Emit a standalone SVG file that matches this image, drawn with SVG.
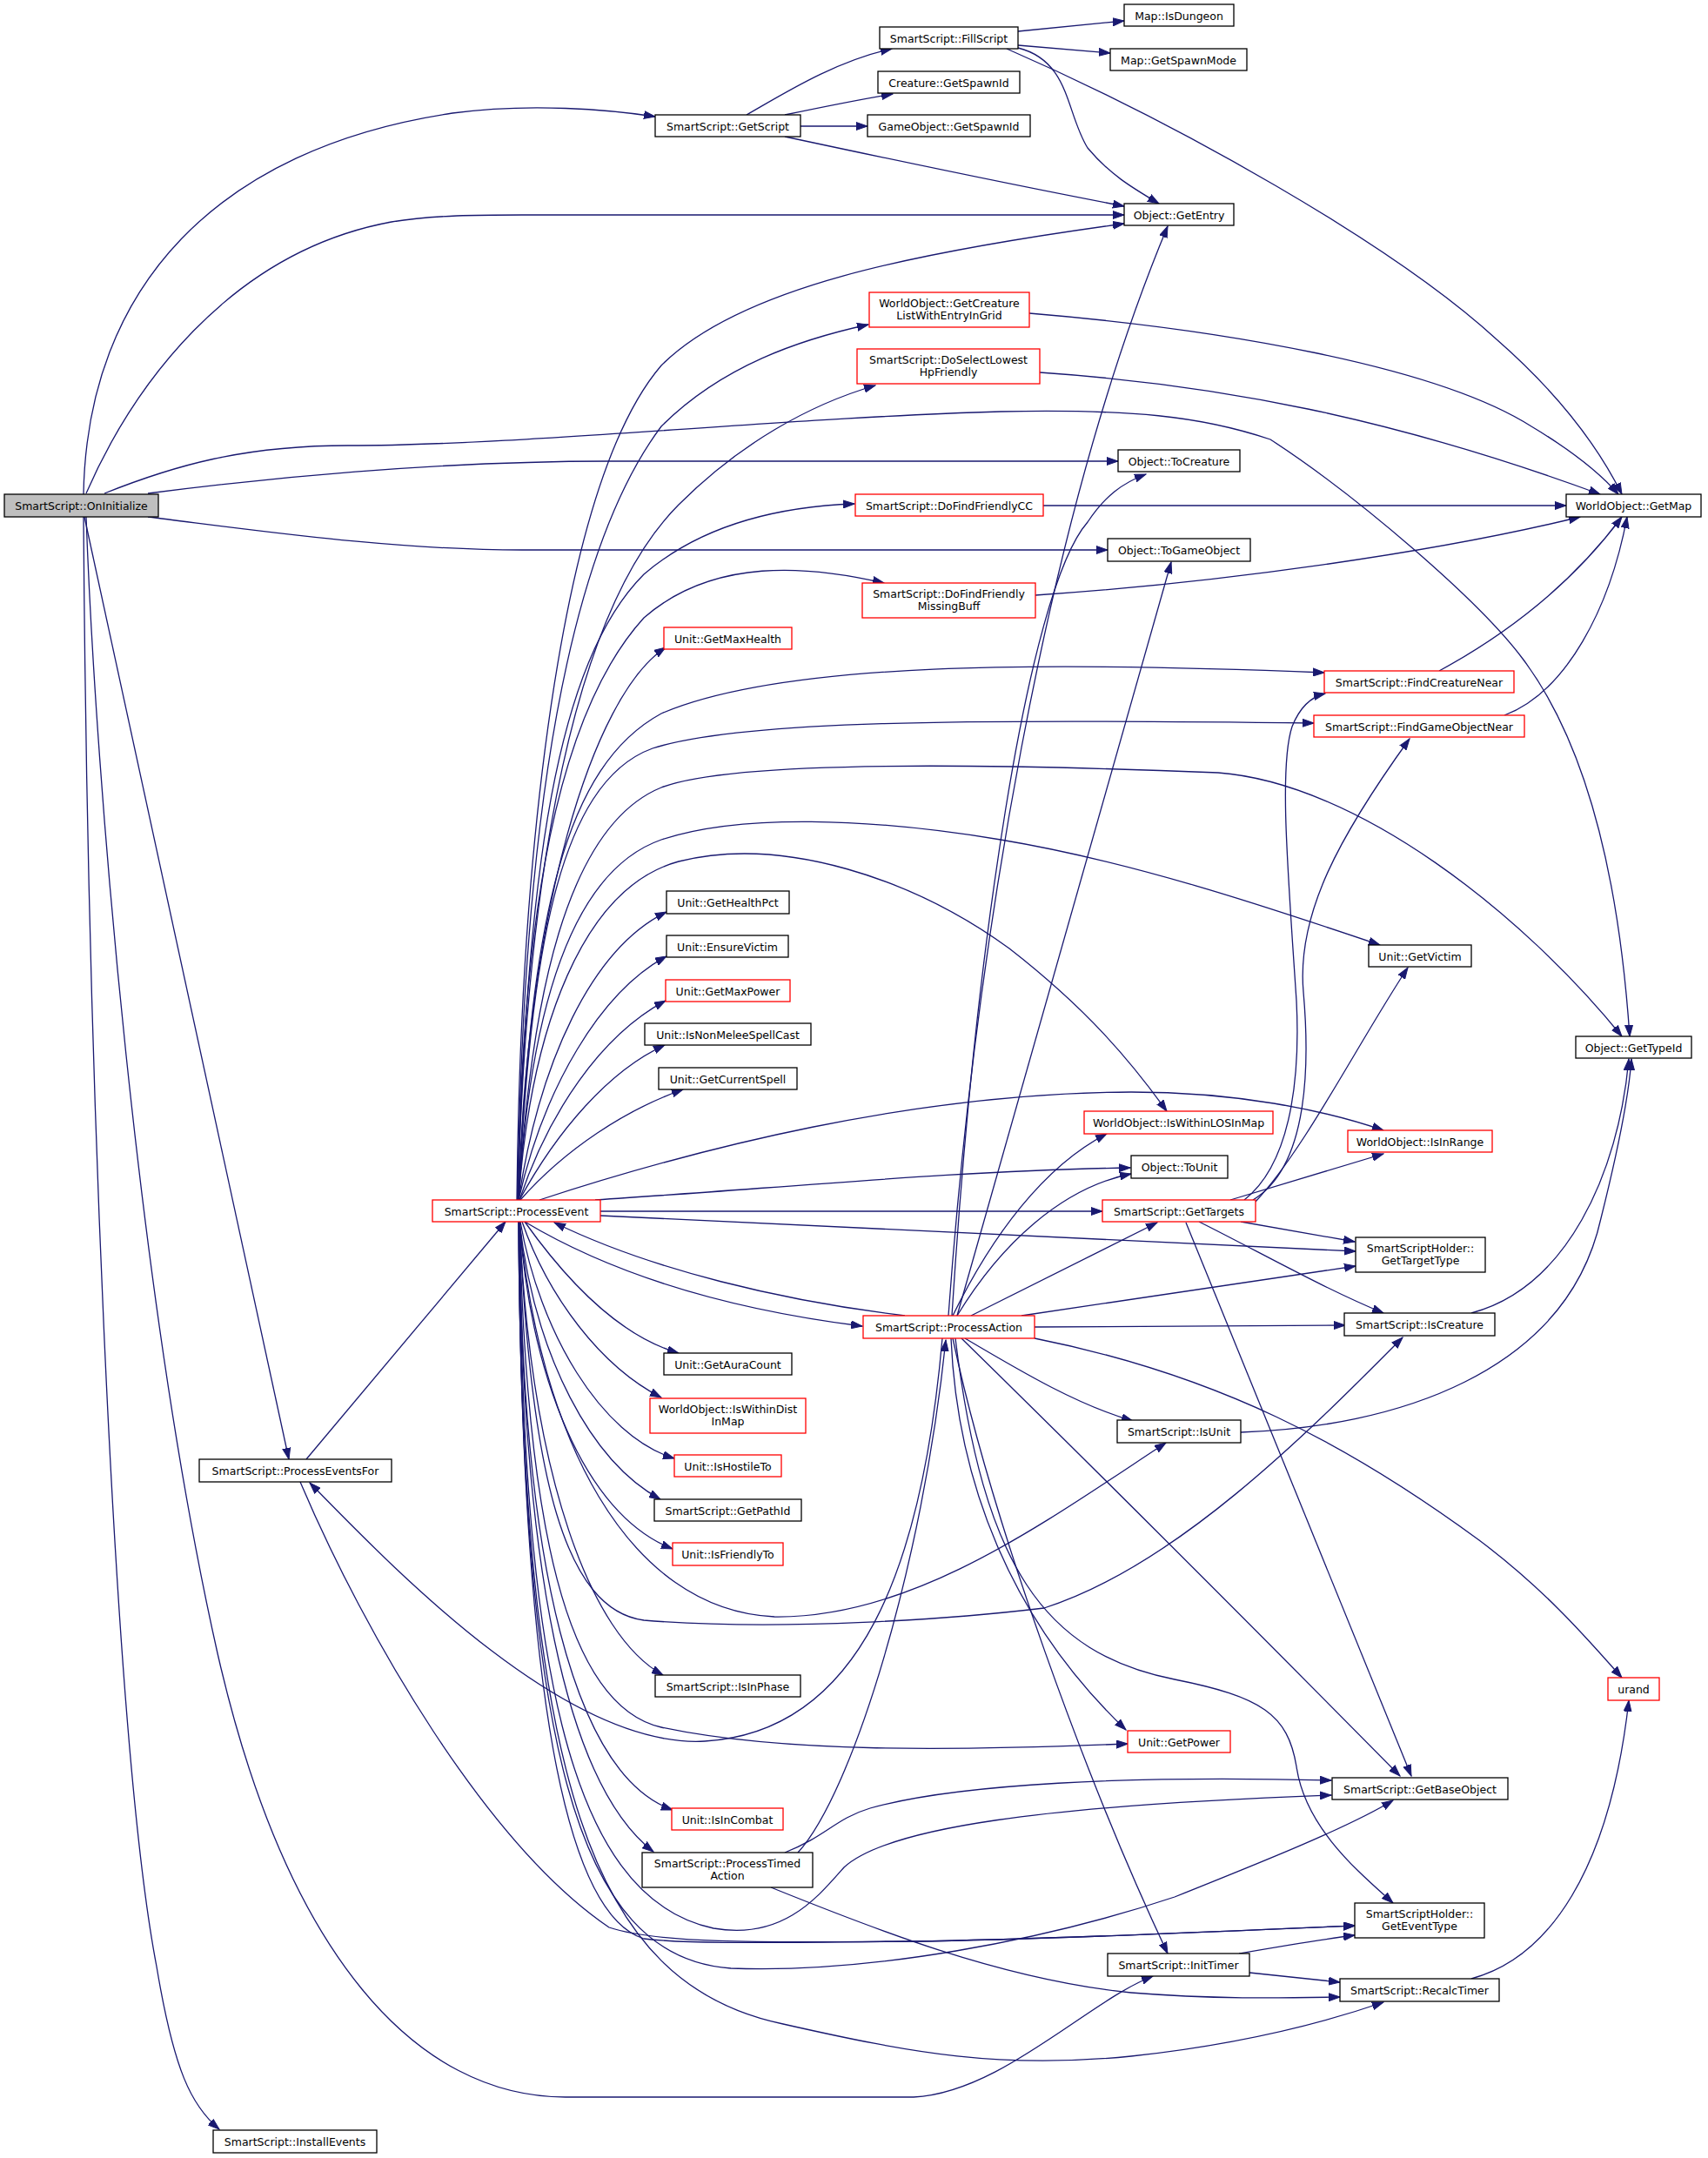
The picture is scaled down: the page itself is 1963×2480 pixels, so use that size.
<svg xmlns="http://www.w3.org/2000/svg" width="1963" height="2480" viewBox="0 0 1963 2480">
<defs>
<style>
.node rect{fill:#fff;stroke:#000;stroke-width:1.3}
.node.red rect{stroke:#f00}
.node.root rect{fill:#bfbfbf}
.node text{font-family:"DejaVu Sans","Liberation Sans",sans-serif;font-size:12.5px;text-anchor:middle;fill:#000}
#edges path{fill:none;stroke:#191970;stroke-width:1.3;marker-end:url(#arr)}
</style>
<marker id="arr" markerUnits="userSpaceOnUse" markerWidth="14" markerHeight="10" refX="13" refY="5" orient="auto">
<path d="M0,0.5 L13,5 L0,9.5 z" fill="#191970" stroke="#191970" stroke-width="1"/>
</marker>
</defs>
<rect width="1963" height="2480" fill="#fff"/>
<g id="edges">
<path d="M96,568 C100,330 250,170 520,130 C610,118 700,126 753,134"/>
<path d="M99,567 C150,450 260,290 450,255 C500,247 550,247 600,247 L1292,247"/>
<path d="M120,567 C200,535 280,512 400,512 C600,512 900,480 1150,473 C1300,470 1380,478 1460,505 C1560,570 1700,690 1750,757 C1820,850 1860,1000 1873,1191"/>
<path d="M170,567 C300,550 500,530 700,530 L1285,530"/>
<path d="M170,594 C300,610 450,632 600,632 L1273,632"/>
<path d="M97,594 L332,1677"/>
<path d="M99,594 C110,900 160,1500 250,1900 C330,2250 480,2410 650,2410 L1050,2410 C1150,2405 1250,2300 1325,2271"/>
<path d="M96,594 C100,1200 130,2000 180,2260 C200,2380 220,2420 252,2447"/>
<path d="M858,132 C900,108 960,70 1025,56"/>
<path d="M902,132 C950,122 990,114 1026,108"/>
<path d="M920,145 L997,145"/>
<path d="M902,157 C1000,178 1150,210 1292,237"/>
<path d="M1170,36 L1292,24"/>
<path d="M1170,52 L1276,61"/>
<path d="M1170,55 C1230,70 1225,130 1250,170 C1275,200 1300,215 1332,234"/>
<path d="M1157,56 C1350,140 1600,280 1720,390 C1800,460 1840,520 1864,568"/>
<path d="M1183,360 C1400,378 1650,420 1760,490 C1810,520 1840,545 1860,568"/>
<path d="M1195,428 C1400,442 1600,480 1839,568"/>
<path d="M1198,581 L1800,581"/>
<path d="M1190,684 C1400,670 1650,635 1816,594"/>
<path d="M1654,771 C1720,735 1800,680 1864,594"/>
<path d="M1729,822 C1800,795 1850,700 1870,594"/>
<path d="M594,1379 C598,1000 640,560 760,420 C850,330 1050,290 1292,257"/>
<path d="M595,1379 C600,1000 640,650 760,490 C830,420 920,390 998,373"/>
<path d="M595,1379 C605,1000 660,700 780,580 C850,510 930,465 1006,443"/>
<path d="M595,1379 C605,1000 640,760 740,660 C810,600 900,582 982,579"/>
<path d="M595,1379 C600,1050 640,820 740,710 C820,640 930,650 1016,670"/>
<path d="M596,1379 C605,1050 680,800 765,744"/>
<path d="M596,1379 C610,1050 650,880 760,820 C900,760 1200,760 1522,773"/>
<path d="M596,1379 C610,1100 640,900 750,860 C850,828 1100,826 1510,831"/>
<path d="M596,1379 C610,1150 650,950 760,905 C850,870 1200,880 1400,888 C1560,900 1750,1050 1864,1191"/>
<path d="M596,1379 C610,1150 660,1000 760,965 C850,935 1000,940 1150,965 C1300,990 1450,1040 1586,1086"/>
<path d="M596,1379 C610,1180 670,1020 780,990 C900,960 1050,1010 1160,1090 C1250,1160 1300,1220 1341,1277"/>
<path d="M596,1379 C620,1220 680,1090 766,1048"/>
<path d="M596,1379 C625,1250 690,1140 766,1099"/>
<path d="M597,1379 C630,1280 690,1190 765,1150"/>
<path d="M597,1379 C640,1300 700,1230 764,1201"/>
<path d="M598,1379 C650,1320 720,1275 785,1252"/>
<path d="M620,1379 C800,1320 1050,1256 1300,1255 C1420,1255 1520,1275 1590,1299"/>
<path d="M684,1379 C900,1365 1100,1345 1299,1342"/>
<path d="M690,1392 L1267,1392"/>
<path d="M690,1397 C1000,1410 1300,1428 1558,1438"/>
<path d="M603,1404 C680,1450 800,1500 991,1524"/>
<path d="M1040,1512 C900,1495 750,1460 637,1405"/>
<path d="M603,1404 C650,1470 710,1535 780,1555"/>
<path d="M600,1404 C630,1490 690,1570 760,1606"/>
<path d="M598,1404 C620,1530 690,1650 775,1676"/>
<path d="M597,1404 C615,1560 680,1680 759,1723"/>
<path d="M597,1404 C610,1580 670,1740 773,1780"/>
<path d="M597,1404 C620,1650 720,1850 890,1858 C1050,1860 1200,1750 1340,1658"/>
<path d="M597,1404 C610,1700 650,1850 740,1862 C900,1875 1100,1860 1200,1848 C1350,1800 1500,1650 1612,1537"/>
<path d="M597,1404 C610,1700 680,1880 762,1925"/>
<path d="M597,1404 C605,1750 650,1960 760,1985 C900,2015 1100,2012 1296,2004"/>
<path d="M597,1404 C600,1800 660,2040 773,2080"/>
<path d="M597,1404 C600,1800 650,2050 751,2128"/>
<path d="M597,1404 C600,1900 650,2180 820,2216 C900,2230 940,2180 970,2146 C1020,2100 1200,2075 1530,2063"/>
<path d="M596,1404 C600,2000 660,2250 840,2262 C1000,2268 1200,2230 1350,2180 C1450,2140 1550,2100 1601,2069"/>
<path d="M596,1404 C600,2050 680,2280 900,2326 C1050,2360 1150,2378 1300,2363 C1420,2350 1520,2325 1590,2301"/>
<path d="M596,1404 C600,1950 650,2200 740,2228 C800,2235 900,2232 1050,2231 C1200,2229 1400,2220 1557,2213"/>
<path d="M352,1677 L581,1404"/>
<path d="M345,1703 C420,1880 560,2120 700,2215 C760,2235 900,2232 1050,2231 C1200,2229 1400,2220 1557,2213"/>
<path d="M1090,1512 C1120,1100 1200,600 1342,260"/>
<path d="M1094,1512 C1120,1100 1180,680 1250,600 C1270,570 1290,555 1317,545"/>
<path d="M1100,1512 L1346,646"/>
<path d="M1095,1512 C1140,1420 1200,1340 1272,1303"/>
<path d="M1100,1512 C1150,1430 1220,1365 1300,1349"/>
<path d="M1116,1512 C1200,1470 1270,1435 1330,1405"/>
<path d="M1174,1512 L1558,1455"/>
<path d="M1189,1525 L1546,1523"/>
<path d="M1109,1538 C1180,1580 1240,1615 1302,1633"/>
<path d="M1189,1538 C1400,1580 1550,1660 1700,1770 C1780,1830 1830,1890 1864,1928"/>
<path d="M1105,1538 C1250,1680 1450,1880 1609,2041"/>
<path d="M1098,1538 C1130,1800 1200,1900 1350,1930 C1450,1950 1480,1970 1490,2030 C1500,2100 1560,2150 1601,2187"/>
<path d="M1095,1538 C1140,1750 1250,2050 1342,2245"/>
<path d="M1093,1538 C1100,1700 1160,1860 1294,1988"/>
<path d="M1083,1538 C1060,1800 990,1990 810,2001 C650,2010 450,1800 356,1704"/>
<path d="M917,2129 C980,2060 1060,1800 1087,1540"/>
<path d="M902,2129 C950,2110 960,2090 1000,2078 C1100,2050 1300,2040 1530,2046"/>
<path d="M886,2169 C1000,2215 1150,2275 1300,2290 C1400,2298 1480,2296 1540,2295"/>
<path d="M1430,1379 C1480,1340 1495,1250 1490,1150 C1480,1000 1470,880 1485,835 C1495,810 1510,800 1523,797"/>
<path d="M1440,1379 C1505,1340 1505,1220 1498,1140 C1490,1050 1540,960 1620,849"/>
<path d="M1443,1381 C1500,1320 1560,1200 1618,1112"/>
<path d="M1414,1379 L1590,1326"/>
<path d="M1426,1404 L1557,1427"/>
<path d="M1378,1404 C1450,1440 1520,1480 1590,1509"/>
<path d="M1363,1405 L1622,2041"/>
<path d="M1691,1509 C1800,1480 1860,1350 1872,1217"/>
<path d="M1426,1646 C1600,1640 1800,1580 1840,1400 C1860,1320 1872,1260 1875,1217"/>
<path d="M1424,2245 C1470,2237 1510,2230 1557,2224"/>
<path d="M1436,2267 L1540,2278"/>
<path d="M1691,2274 C1780,2250 1850,2150 1872,1954"/>
</g>
<g id="n-OnInitialize" class="node root"><rect x="5" y="568" width="177" height="26"/><text x="93.5" y="585.5">SmartScript::OnInitialize</text></g>
<g id="n-GetScript" class="node"><rect x="753" y="132" width="167" height="25"/><text x="836.5" y="149.5">SmartScript::GetScript</text></g>
<g id="n-FillScript" class="node"><rect x="1011" y="31" width="159" height="25"/><text x="1090.5" y="48.5">SmartScript::FillScript</text></g>
<g id="n-CreatureGetSpawnId" class="node"><rect x="1009" y="82" width="163" height="25"/><text x="1090.5" y="99.5">Creature::GetSpawnId</text></g>
<g id="n-GameObjectGetSpawnId" class="node"><rect x="997" y="132" width="187" height="25"/><text x="1090.5" y="149.5">GameObject::GetSpawnId</text></g>
<g id="n-IsDungeon" class="node"><rect x="1292" y="5" width="126" height="25"/><text x="1355" y="22.5">Map::IsDungeon</text></g>
<g id="n-GetSpawnMode" class="node"><rect x="1276" y="56" width="157" height="25"/><text x="1354.5" y="73.5">Map::GetSpawnMode</text></g>
<g id="n-GetEntry" class="node"><rect x="1292" y="234" width="126" height="25"/><text x="1355" y="251.5">Object::GetEntry</text></g>
<g id="n-GetCreatureList" class="node red"><rect x="999" y="336" width="184" height="40"/><text x="1091" y="352.5">WorldObject::GetCreature</text><text x="1091" y="366.5">ListWithEntryInGrid</text></g>
<g id="n-DoSelectLowest" class="node red"><rect x="985" y="401" width="210" height="40"/><text x="1090" y="417.5">SmartScript::DoSelectLowest</text><text x="1090" y="431.5">HpFriendly</text></g>
<g id="n-GetMap" class="node"><rect x="1800" y="568" width="155" height="26"/><text x="1877.5" y="585.5">WorldObject::GetMap</text></g>
<g id="n-ToCreature" class="node"><rect x="1285" y="517" width="140" height="25"/><text x="1355" y="534.5">Object::ToCreature</text></g>
<g id="n-DoFindFriendlyCC" class="node red"><rect x="983" y="568" width="216" height="25"/><text x="1091" y="585.5">SmartScript::DoFindFriendlyCC</text></g>
<g id="n-ToGameObject" class="node"><rect x="1273" y="619" width="164" height="26"/><text x="1355" y="636.5">Object::ToGameObject</text></g>
<g id="n-MissingBuff" class="node red"><rect x="991" y="670" width="199" height="40"/><text x="1090.5" y="686.5">SmartScript::DoFindFriendly</text><text x="1090.5" y="700.5">MissingBuff</text></g>
<g id="n-GetMaxHealth" class="node red"><rect x="763" y="721" width="147" height="25"/><text x="836.5" y="738.5">Unit::GetMaxHealth</text></g>
<g id="n-FindCreatureNear" class="node red"><rect x="1522" y="771" width="218" height="25"/><text x="1631" y="788.5">SmartScript::FindCreatureNear</text></g>
<g id="n-FindGameObjectNear" class="node red"><rect x="1510" y="822" width="242" height="25"/><text x="1631" y="839.5">SmartScript::FindGameObjectNear</text></g>
<g id="n-GetHealthPct" class="node"><rect x="766" y="1024" width="141" height="26"/><text x="836.5" y="1041.5">Unit::GetHealthPct</text></g>
<g id="n-EnsureVictim" class="node"><rect x="766" y="1075" width="140" height="25"/><text x="836" y="1092.5">Unit::EnsureVictim</text></g>
<g id="n-GetMaxPower" class="node red"><rect x="765" y="1126" width="143" height="25"/><text x="836.5" y="1143.5">Unit::GetMaxPower</text></g>
<g id="n-IsNonMeleeSpellCast" class="node"><rect x="741" y="1176" width="191" height="25"/><text x="836.5" y="1193.5">Unit::IsNonMeleeSpellCast</text></g>
<g id="n-GetCurrentSpell" class="node"><rect x="757" y="1227" width="159" height="25"/><text x="836.5" y="1244.5">Unit::GetCurrentSpell</text></g>
<g id="n-GetVictim" class="node"><rect x="1573" y="1086" width="118" height="25"/><text x="1632" y="1103.5">Unit::GetVictim</text></g>
<g id="n-GetTypeId" class="node"><rect x="1811" y="1191" width="133" height="25"/><text x="1877.5" y="1208.5">Object::GetTypeId</text></g>
<g id="n-IsWithinLOSInMap" class="node red"><rect x="1246" y="1277" width="217" height="26"/><text x="1354.5" y="1294.5">WorldObject::IsWithinLOSInMap</text></g>
<g id="n-IsInRange" class="node red"><rect x="1549" y="1299" width="166" height="25"/><text x="1632" y="1316.5">WorldObject::IsInRange</text></g>
<g id="n-ToUnit" class="node"><rect x="1300" y="1328" width="111" height="26"/><text x="1355.5" y="1345.5">Object::ToUnit</text></g>
<g id="n-ProcessEvent" class="node red"><rect x="497" y="1379" width="193" height="25"/><text x="593.5" y="1396.5">SmartScript::ProcessEvent</text></g>
<g id="n-GetTargets" class="node red"><rect x="1267" y="1379" width="176" height="25"/><text x="1355" y="1396.5">SmartScript::GetTargets</text></g>
<g id="n-GetTargetType" class="node"><rect x="1558" y="1422" width="149" height="40"/><text x="1632.5" y="1438.5">SmartScriptHolder::</text><text x="1632.5" y="1452.5">GetTargetType</text></g>
<g id="n-ProcessAction" class="node red"><rect x="992" y="1512" width="197" height="26"/><text x="1090.5" y="1529.5">SmartScript::ProcessAction</text></g>
<g id="n-IsCreature" class="node"><rect x="1545" y="1509" width="173" height="26"/><text x="1631.5" y="1526.5">SmartScript::IsCreature</text></g>
<g id="n-GetAuraCount" class="node"><rect x="763" y="1555" width="147" height="25"/><text x="836.5" y="1572.5">Unit::GetAuraCount</text></g>
<g id="n-IsWithinDistInMap" class="node red"><rect x="747" y="1607" width="179" height="40"/><text x="836.5" y="1623.5">WorldObject::IsWithinDist</text><text x="836.5" y="1637.5">InMap</text></g>
<g id="n-IsUnit" class="node"><rect x="1284" y="1632" width="142" height="26"/><text x="1355" y="1649.5">SmartScript::IsUnit</text></g>
<g id="n-ProcessEventsFor" class="node"><rect x="229" y="1677" width="221" height="26"/><text x="339.5" y="1694.5">SmartScript::ProcessEventsFor</text></g>
<g id="n-IsHostileTo" class="node red"><rect x="775" y="1672" width="123" height="25"/><text x="836.5" y="1689.5">Unit::IsHostileTo</text></g>
<g id="n-GetPathId" class="node"><rect x="752" y="1723" width="169" height="25"/><text x="836.5" y="1740.5">SmartScript::GetPathId</text></g>
<g id="n-IsFriendlyTo" class="node red"><rect x="773" y="1773" width="127" height="26"/><text x="836.5" y="1790.5">Unit::IsFriendlyTo</text></g>
<g id="n-urand" class="node red"><rect x="1848" y="1928" width="59" height="26"/><text x="1877.5" y="1945.5">urand</text></g>
<g id="n-IsInPhase" class="node"><rect x="753" y="1925" width="167" height="25"/><text x="836.5" y="1942.5">SmartScript::IsInPhase</text></g>
<g id="n-GetPower" class="node red"><rect x="1296" y="1989" width="118" height="25"/><text x="1355" y="2006.5">Unit::GetPower</text></g>
<g id="n-GetBaseObject" class="node"><rect x="1531" y="2043" width="202" height="25"/><text x="1632" y="2060.5">SmartScript::GetBaseObject</text></g>
<g id="n-IsInCombat" class="node red"><rect x="772" y="2078" width="128" height="25"/><text x="836" y="2095.5">Unit::IsInCombat</text></g>
<g id="n-ProcessTimedAction" class="node"><rect x="738" y="2129" width="196" height="40"/><text x="836" y="2145.5">SmartScript::ProcessTimed</text><text x="836" y="2159.5">Action</text></g>
<g id="n-GetEventType" class="node"><rect x="1557" y="2187" width="149" height="40"/><text x="1631.5" y="2203.5">SmartScriptHolder::</text><text x="1631.5" y="2217.5">GetEventType</text></g>
<g id="n-InitTimer" class="node"><rect x="1273" y="2245" width="163" height="26"/><text x="1354.5" y="2262.5">SmartScript::InitTimer</text></g>
<g id="n-RecalcTimer" class="node"><rect x="1540" y="2274" width="183" height="26"/><text x="1631.5" y="2291.5">SmartScript::RecalcTimer</text></g>
<g id="n-InstallEvents" class="node"><rect x="245" y="2448" width="188" height="26"/><text x="339" y="2465.5">SmartScript::InstallEvents</text></g>
</svg>
